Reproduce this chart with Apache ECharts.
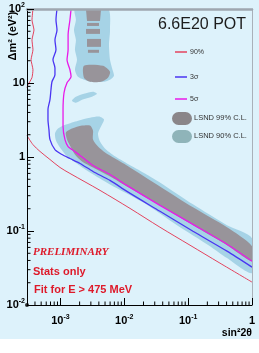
<!DOCTYPE html>
<html><head><meta charset="utf-8">
<script src="https://cdn.jsdelivr.net/npm/echarts@6/dist/echarts.min.js"></script>
<style>
html,body{margin:0;padding:0;background:#fff;}
#chart{width:259px;height:353px;background:linear-gradient(#ddf2fb 0,#ddf2fb 339px,#fff 339px);}
</style>
</head><body><div id="chart"></div>
<script>
// Axis ranges
const X_MIN = 3e-4, X_MAX = 1, Y_MIN = 0.01, Y_MAX = 100;

// Minor tick positions
const xMinorTicks = [4e-4,5e-4,6e-4,7e-4,8e-4,9e-4,
  2e-3,3e-3,4e-3,5e-3,6e-3,7e-3,8e-3,9e-3,
  0.02,0.03,0.04,0.05,0.06,0.07,0.08,0.09,
  0.2,0.3,0.4,0.5,0.6,0.7,0.8,0.9];
const yMinorTicks = [0.02,0.03,0.04,0.05,0.06,0.07,0.08,0.09,
  0.2,0.3,0.4,0.5,0.6,0.7,0.8,0.9,
  2,3,4,5,6,7,8,9,
  20,30,40,50,60,70,80,90];

// 90% C.L. limit (two visible pieces)
const cl90Upper = [[3.72e-4,100],[3.59e-4,71.1],[3.86e-4,52.1],[3.59e-4,38.2],[3.72e-4,28.1],[3.47e-4,20.6],[3.72e-4,15.1],[3.59e-4,11.8],[3.11e-4,9.46],[3.0e-4,8.63]];
const cl90Lower = [[3.0e-4,1.95],[3.72e-4,1.47],[4.79e-4,1.19],[6.87e-4,0.925],[9.86e-4,0.722],[1.41e-3,0.600],[4.17e-3,0.354],[1.23e-2,0.202],[3.62e-2,0.1125],[0.107,0.0643],[0.315,0.0368],[1.0,0.0204]];
// 3 sigma
const sigma3 = [[8.85e-4,100],[8.53e-4,71.1],[8.85e-4,52.1],[8.22e-4,38.2],[8.53e-4,28.1],[7.65e-4,20.6],[8.22e-4,16.0],[8.22e-4,12.9],[7.38e-4,10.4],[7.12e-4,8.11],[6.87e-4,5.95],[6.39e-4,4.36],[6.39e-4,3.20],[6.62e-4,2.34],[6.87e-4,1.72],[8.22e-4,1.26],[1.06e-3,1.08],[1.41e-3,0.954],[2.03e-3,0.818],[3.24e-3,0.638],[5.98e-3,0.483],[1.10e-2,0.343],[3.62e-2,0.1845],[0.119,0.0992],[0.406,0.0534],[1.0,0.0325]];
// 5 sigma
const sigma5 = [[1.47e-3,100],[1.41e-3,71.1],[1.32e-3,44.7],[1.32e-3,28.1],[1.27e-3,20.6],[1.41e-3,15.1],[1.47e-3,12.1],[1.27e-3,10.1],[1.14e-3,7.39],[1.10e-3,4.36],[1.10e-3,2.58],[1.18e-3,1.72],[1.32e-3,1.385],[1.52e-3,1.26],[2.03e-3,1.05],[3.24e-3,0.768],[5.98e-3,0.581],[1.10e-2,0.413],[3.62e-2,0.222],[0.119,0.123],[0.406,0.0663],[1.0,0.0391]];

// LSND 90% C.L. allowed regions
const lsnd90Top = [[1.69e-3,100],[1.75e-3,71.1],[1.63e-3,52.1],[1.75e-3,38.2],[1.69e-3,28.1],[1.82e-3,20.6],[1.69e-3,15.1],[1.88e-3,12.1],[2.34e-3,11.07],[3.12e-3,10.4],[4.82e-3,10.4],[5.98e-3,11.07],[6.90e-3,12.5],[6.43e-3,16.0],[5.98e-3,20.6],[5.77e-3,32.7],[5.98e-3,52.1],[5.56e-3,100]];
const lsnd90Blob = [[1.52e-3,5.77],[1.75e-3,6.53],[2.34e-3,7.16],[3.24e-3,7.62],[3.74e-3,7.16],[3.12e-3,6.53],[2.18e-3,5.95],[1.75e-3,5.42]];
const lsnd90Main = [[8.23e-4,2.07],[9.17e-4,2.42],[1.22e-3,2.74],[1.89e-3,3.10],[2.91e-3,3.40],[4.17e-3,3.51],[4.82e-3,3.20],[4.32e-3,2.58],[3.88e-3,2.07],[4.17e-3,1.62],[5.18e-3,1.26],[7.16e-3,1.02],[1.10e-2,0.818],[2.11e-2,0.600],[3.62e-2,0.453],[0.119,0.229],[0.406,0.1195],[1.0,0.0799],
  [1.0,0.0270],[0.406,0.0430],[0.220,0.0623],[6.69e-2,0.1195],[1.96e-2,0.244],[5.98e-3,0.426],[2.91e-3,0.618],[1.89e-3,0.792],[1.27e-3,1.02],[9.86e-4,1.34],[8.53e-4,1.67]];
// LSND 99% C.L. allowed regions
const lsnd99S1 = [[2.52e-3,97.0],[4.32e-3,97.0],[4.17e-3,68.9],[2.61e-3,68.9]];
const lsnd99S2 = [[2.61e-3,64.8],[4.02e-3,64.8],[4.02e-3,59.0],[2.61e-3,59.0]];
const lsnd99S3 = [[2.52e-3,53.8],[4.17e-3,53.8],[4.17e-3,46.1],[2.52e-3,46.1]];
const lsnd99S4 = [[2.61e-3,39.4],[4.32e-3,39.4],[4.32e-3,30.8],[2.61e-3,30.8]];
const lsnd99S5 = [[2.70e-3,28.1],[4.02e-3,28.1],[4.02e-3,25.6],[2.70e-3,25.6]];
const lsnd99Blob = [[2.34e-3,17.1],[4.65e-3,17.1],[5.98e-3,14.2],[5.56e-3,11.8],[4.32e-3,10.4],[2.91e-3,10.4],[2.34e-3,11.8]];
const lsnd99Main = [[1.22e-3,2.14],[1.52e-3,2.42],[2.18e-3,2.66],[2.91e-3,2.66],[3.24e-3,2.28],[3.24e-3,1.72],[3.88e-3,1.385],[5.00e-3,1.15],[7.16e-3,0.954],[1.10e-2,0.768],[3.62e-2,0.400],[0.119,0.209],[0.406,0.112],[1.0,0.0623],
  [1.0,0.0391],[0.406,0.0643],[0.119,0.1195],[3.62e-2,0.222],[1.10e-2,0.400],[5.98e-3,0.546],[3.24e-3,0.722],[2.18e-3,0.870],[1.69e-3,1.08],[1.41e-3,1.43],[1.27e-3,1.72]];

const lsnd90Polys = [lsnd90Top, lsnd90Blob, lsnd90Main];
const lsnd99Polys = [lsnd99S1, lsnd99S2, lsnd99S3, lsnd99S4, lsnd99S5, lsnd99Blob, lsnd99Main];

const C_RED = '#e3435e', C_BLUE = '#4a35f2', C_MAG = '#e81ae8';
const C_L90 = '#a6d3e6', C_L99 = '#98949a';
const TXT_RED = '#de1a2a';
const FONT = '"Liberation Sans", Arial, sans-serif';

function powLabel(v) {
  const l = Math.log10(v), e = Math.round(l);
  if (Math.abs(l - e) > 1e-6) return '';
  if (e === 0) return '{b|1}';
  if (e === 1) return '{b|10}';
  return '{b|10}{s|' + e + '}';
}
const richLab = {
  b: {fontSize: 11, fontWeight: 'bold', fontFamily: FONT, color: '#000', lineHeight: 14},
  s: {fontSize: 7, fontWeight: 'bold', fontFamily: FONT, color: '#000', lineHeight: 8, verticalAlign: 'top'}
};

function polySeries(polys, color, smooth) {
  return {
    type: 'custom', coordinateSystem: 'cartesian2d', clip: true, silent: true, z: 1,
    data: polys.map((p, i) => [p[0][0], p[0][1], i]),
    encode: {x: 0, y: 1},
    renderItem: function (params, api) {
      const poly = polys[api.value(2)];
      const pts = poly.map(p => api.coord(p));
      return {type: 'polygon', shape: {points: pts, smooth: poly.length > 5 ? smooth : 0}, style: {fill: color}};
    }
  };
}
function lineSeries(data, color, width, smooth) {
  return {type: 'line', data: data, showSymbol: false, symbol: 'none', smooth: smooth, clip: true, z: 3,
    lineStyle: {color: color, width: width}, silent: true};
}

const chart = echarts.init(document.getElementById('chart'), null, {renderer: 'canvas'});
chart.setOption({
  animation: false,
  backgroundColor: 'transparent',
  grid: {left: 27, right: 7, top: 9, bottom: 48},
  xAxis: [{
    type: 'log', min: X_MIN, max: X_MAX, position: 'bottom', z: 5,
    axisLine: {show: true, lineStyle: {color: '#000', width: 1}},
    axisTick: {show: true, inside: true, length: 7, lineStyle: {color: '#000', width: 1}},
    axisLabel: {formatter: powLabel, rich: richLab, margin: 9, showMinLabel: false, hideOverlap: false},
    splitLine: {show: false}, minorTick: {show: false}
  }, {
    type: 'log', min: X_MIN, max: X_MAX, position: 'top', z: 5,
    axisLine: {show: true, lineStyle: {color: '#9ea7b0', width: 2.5}},
    axisTick: {show: false}, axisLabel: {show: false}, splitLine: {show: false}
  }],
  yAxis: [{
    type: 'log', min: Y_MIN, max: Y_MAX, position: 'left', z: 5,
    axisLine: {show: true, lineStyle: {color: '#000', width: 1}},
    axisTick: {show: true, inside: true, length: 7, lineStyle: {color: '#000', width: 1}},
    axisLabel: {formatter: powLabel, rich: richLab, margin: 2, hideOverlap: false},
    splitLine: {show: false}
  }, {
    type: 'log', min: Y_MIN, max: Y_MAX, position: 'right', z: 5,
    axisLine: {show: true, lineStyle: {color: '#a9b1b9', width: 1}},
    axisTick: {show: false}, axisLabel: {show: false}, splitLine: {show: false}
  }],
  series: [
    polySeries(lsnd90Polys, C_L90, 0.25),
    polySeries(lsnd99Polys, C_L99, 0.25),
    lineSeries(cl90Upper, C_RED, 1, 0.15),
    lineSeries(cl90Lower, C_RED, 1, 0.3),
    lineSeries(sigma3, C_BLUE, 1.3, 0.25),
    lineSeries(sigma5, C_MAG, 1.3, 0.25),
    {
      type: 'custom', coordinateSystem: 'cartesian2d', clip: false, silent: true, z: 6,
      data: xMinorTicks.map(v => [v, Y_MIN]), encode: {x: 0, y: 1},
      renderItem: function (params, api) {
        const p = api.coord([api.value(0), api.value(1)]);
        return {type: 'line', shape: {x1: p[0], y1: p[1], x2: p[0], y2: p[1] - 3.5}, style: {stroke: '#000', lineWidth: 1}};
      }
    },
    {
      type: 'custom', coordinateSystem: 'cartesian2d', clip: false, silent: true, z: 6,
      data: yMinorTicks.map(v => [X_MIN, v]), encode: {x: 0, y: 1},
      renderItem: function (params, api) {
        const p = api.coord([api.value(0), api.value(1)]);
        return {type: 'line', shape: {x1: p[0], y1: p[1], x2: p[0] + 3.5, y2: p[1]}, style: {stroke: '#000', lineWidth: 1}};
      }
    },
    {type: 'scatter', data: [[X_MIN, Y_MIN]], symbolSize: 4, clip: false, z: 7, silent: true, itemStyle: {color: '#000'}}
  ],
  graphic: [
    {type: 'text', x: 13, y: 36, rotation: Math.PI / 2, silent: true,
      style: {text: 'Δm² (eV²)', font: 'bold 11px ' + FONT, fill: '#000', align: 'center', verticalAlign: 'middle'}},
    {type: 'text', x: 252, y: 333, silent: true,
      style: {text: 'sin²2θ', font: 'bold 10.5px ' + FONT, fill: '#000', align: 'right', verticalAlign: 'middle'}},
    {type: 'text', x: 158, y: 25, silent: true,
      style: {text: '6.6E20 POT', font: '16px ' + FONT, fill: '#1c1c1c', align: 'left', verticalAlign: 'middle'}},
    {type: 'line', silent: true, shape: {x1: 175, y1: 52, x2: 187, y2: 52}, style: {stroke: C_RED, lineWidth: 1.5}},
    {type: 'text', x: 190, y: 52, silent: true, style: {text: '90%', font: '7px ' + FONT, fill: '#333', verticalAlign: 'middle'}},
    {type: 'line', silent: true, shape: {x1: 175, y1: 77, x2: 187, y2: 77}, style: {stroke: C_BLUE, lineWidth: 1.5}},
    {type: 'text', x: 190, y: 77, silent: true, style: {text: '3σ', font: '7px ' + FONT, fill: '#333', verticalAlign: 'middle'}},
    {type: 'line', silent: true, shape: {x1: 175, y1: 99, x2: 187, y2: 99}, style: {stroke: C_MAG, lineWidth: 1.5}},
    {type: 'text', x: 190, y: 99, silent: true, style: {text: '5σ', font: '7px ' + FONT, fill: '#333', verticalAlign: 'middle'}},
    {type: 'rect', silent: true, shape: {x: 172, y: 112, width: 20, height: 13, r: 6.5}, style: {fill: '#8a8689'}},
    {type: 'text', x: 194, y: 118, silent: true, style: {text: 'LSND 99% C.L.', font: '7.5px ' + FONT, fill: '#333', verticalAlign: 'middle'}},
    {type: 'rect', silent: true, shape: {x: 172, y: 130, width: 20, height: 13, r: 6.5}, style: {fill: '#8fb4b9'}},
    {type: 'text', x: 194, y: 136, silent: true, style: {text: 'LSND 90% C.L.', font: '7.5px ' + FONT, fill: '#333', verticalAlign: 'middle'}},
    {type: 'text', x: 33, y: 252, silent: true,
      style: {text: 'PRELIMINARY', font: 'italic bold 11px "Liberation Serif", serif', fill: TXT_RED, verticalAlign: 'middle'}},
    {type: 'text', x: 33, y: 272, silent: true,
      style: {text: 'Stats only', font: 'bold 11px ' + FONT, fill: TXT_RED, verticalAlign: 'middle'}},
    {type: 'text', x: 34, y: 290, silent: true,
      style: {text: 'Fit for E > 475 MeV', font: 'bold 11px ' + FONT, fill: TXT_RED, verticalAlign: 'middle'}}
  ]
});
</script></body></html>
